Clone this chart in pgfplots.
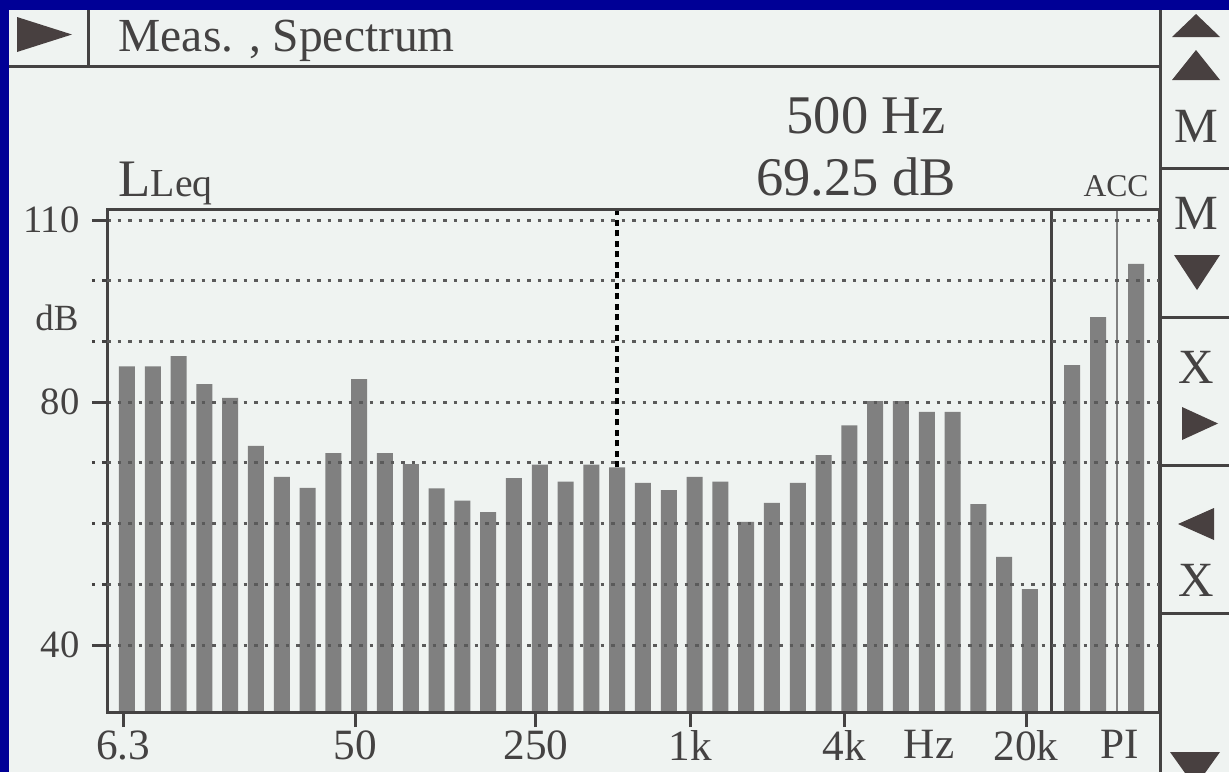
\documentclass[border=0pt]{standalone}
\usepackage{pgfplots}
\pgfplotsset{compat=1.18}
\usepackage{fontspec}
\setmainfont{Liberation Serif}
\definecolor{scrblue}{RGB}{0,0,150}
\definecolor{screen}{RGB}{239,243,241}
\definecolor{ink}{RGB}{68,66,66}
\definecolor{barg}{RGB}{128,128,128}
\definecolor{gridg}{RGB}{90,90,90}
\definecolor{tri}{RGB}{72,64,64}
\begin{document}
\begin{tikzpicture}[x=0.1mm,y=0.1mm]
\path[use as bounding box] (0,0) rectangle (1229,772);
\clip (0,0) rectangle (1229,772);
\fill[scrblue] (0,0) rectangle (1229,772);
\fill[screen] (9,0) rectangle (1229,762);
% title bar
\draw[ink, line width=0.3mm] (9,706) -- (1160,706);
\draw[ink, line width=0.3mm] (88,762) -- (88,706);
\fill[tri] (17,755) -- (17,720) -- (72,737.5) -- cycle;
\node[anchor=base west, inner sep=0, text=ink, font=\fontsize{13.5}{14}\selectfont] at (118,721) {Meas. , Spectrum};
% readouts
\node[anchor=base, inner sep=0, text=ink, font=\fontsize{15.5}{16}\selectfont] at (866,639) {500 Hz};
\node[anchor=base, inner sep=0, text=ink, font=\fontsize{15.5}{16}\selectfont] at (856,577) {69.25 dB};
\node[anchor=base, inner sep=0, text=ink, font=\fontsize{9}{10}\selectfont] at (1116,576) {ACC};
\node[anchor=base west, inner sep=0, text=ink] at (118,576) {{\fontsize{15}{16}\selectfont L}{\fontsize{11.3}{12}\selectfont Leq}};
\node[anchor=center, inner sep=0, text=ink, font=\fontsize{10.5}{11}\selectfont] at (57,454) {dB};
\begin{axis}[
  at={(10.7mm,6.0mm)}, anchor=south west,
  scale only axis, width=105.3mm, height=50.3mm,
  xmin=-0.775, xmax=40.04, ymin=28.96, ymax=111.83,
  axis on top,
  axis line style={ink, line width=0.3mm},
  tick align=outside, major tick length=1.5mm,
  tick style={ink, line width=0.3mm},
  xtick={-0.15,8.85,15.85,21.83,27.8,34.85},
  xticklabels={6.3,50,250,1k,4k,20k},
  extra x ticks={31.09,38.49},
  extra x tick labels={Hz,PI},
  extra x tick style={tick style={draw=none}},
  ytick={40,80,110},
  yticklabels={40,80,110},
  extra y ticks={50,60,70,90,100},
  extra y tick labels={},
  extra y tick style={grid=major, tick style={dash pattern=on 0.35mm off 0.7mm}},
  ymajorgrids=true,
  grid style={gridg, line width=0.3mm, dash pattern=on 0.35mm off 0.7mm},
  x tick label style={text=ink, font=\fontsize{12.3}{13}\selectfont, yshift=0.9mm},
  y tick label style={text=ink, font=\fontsize{11}{12}\selectfont},
  xtick pos=bottom, ytick pos=left,
]
\addplot[ybar, bar width=1.6mm, bar shift=0pt, fill=barg, draw=none] coordinates {
(0,85.9) (1,85.9) (2,87.6) (3,83.0) (4,80.7) (5,72.8) (6,67.7) (7,65.9) (8,71.6)
(9,83.8) (10,71.6) (11,69.8) (12,65.8) (13,63.8) (14,61.9) (15,67.5) (16,69.7)
(17,66.9) (18,69.7) (19,69.25) (20,66.7) (21,65.5) (22,67.7) (23,66.9) (24,60.3)
(25,63.4) (26,66.7) (27,71.3) (28,76.2) (29,80.2) (30,80.2) (31,78.4) (32,78.4)
(33,63.2) (34,54.5) (35,49.2)
};
\addplot[ybar, bar width=1.6mm, bar shift=0pt, fill=barg, draw=none] coordinates {
(36.63,86.1) (37.64,94.0) (39.11,102.8)
};
\addplot[black, line width=0.45mm, dash pattern=on 0.6mm off 0.45mm] coordinates {(19,69.25) (19,111.83)};
\draw[ink, line width=0.3mm] (axis cs:35.85,28.96) -- (axis cs:35.85,111.83);
\draw[gray, line width=0.15mm] (axis cs:38.37,28.96) -- (axis cs:38.37,111.83);
\end{axis}
% right panel
\draw[ink, line width=0.3mm] (1160,0) -- (1160,762);
\foreach \yy in {604,455,307,159} {\draw[ink, line width=0.3mm] (1160,\yy) -- (1229,\yy);}
\fill[tri] (1172,735) -- (1220,735) -- (1196,758) -- cycle;
\fill[tri] (1172,692) -- (1220,692) -- (1196,722) -- cycle;
\node[text=ink, inner sep=0, font=\fontsize{14}{15}\selectfont] at (1196,646) {M};
\node[text=ink, inner sep=0, font=\fontsize{14}{15}\selectfont] at (1196,559) {M};
\fill[tri] (1174,517) -- (1220,517) -- (1197,482) -- cycle;
\node[text=ink, inner sep=0, font=\fontsize{14}{15}\selectfont] at (1196,405) {X};
\fill[tri] (1182,365) -- (1182,332) -- (1218,348.5) -- cycle;
\fill[tri] (1214,264) -- (1214,232) -- (1178,248) -- cycle;
\node[text=ink, inner sep=0, font=\fontsize{14}{15}\selectfont] at (1196,192) {X};
\fill[tri] (1170,20) -- (1220,20) -- (1195,-15) -- cycle;
\end{tikzpicture}
\end{document}
